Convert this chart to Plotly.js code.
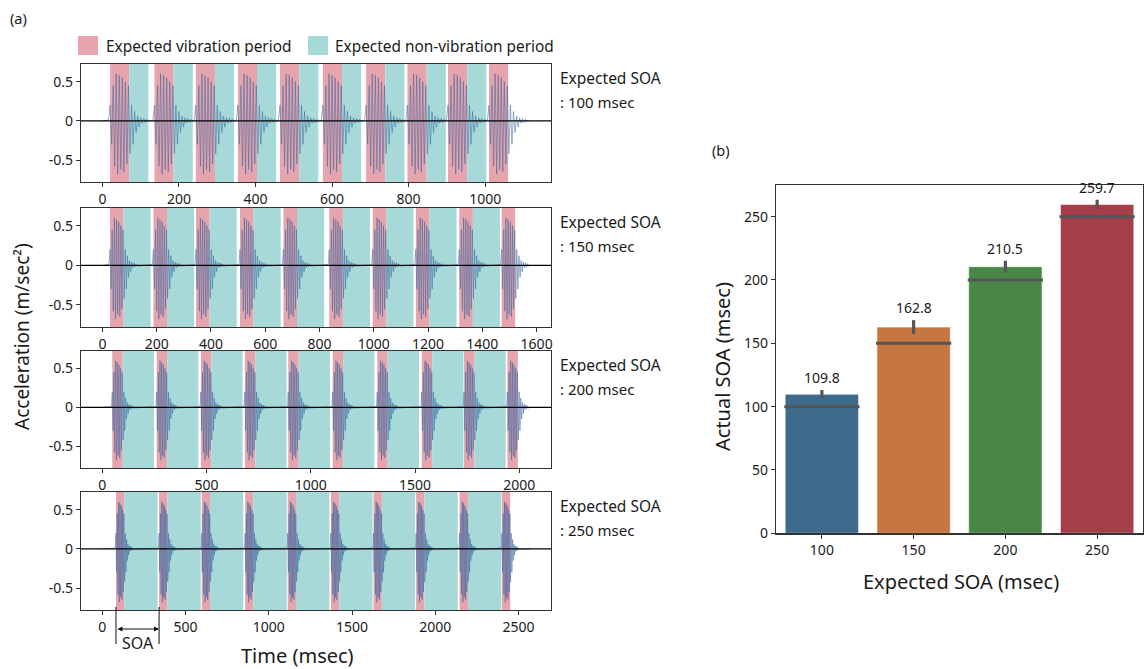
<!DOCTYPE html>
<html><head><meta charset="utf-8">
<script src="https://cdn.plot.ly/plotly-3.0.1.min.js"></script>
<style>html,body{margin:0;padding:0;background:#fff}#chart{width:1148px;height:669px}</style>
</head><body><div id="chart"></div>
<script>
// ---------------- DATA ----------------
const expectedSOA = [100, 150, 200, 250];
const onsets100 = [20, 136, 244, 354, 464, 576, 689, 797, 903, 1010];
const onsets150 = [28, 188, 345, 507, 667, 836, 996, 1155, 1315, 1471];
const onsets200 = [48, 261, 473, 684, 892, 1105, 1319, 1532, 1735, 1943];
const onsets250 = [82, 341, 597, 858, 1114, 1373, 1629, 1885, 2146, 2400];
const signalEnd = [1115, 1575, 2051, 2570];
const vibrationMs = 50;
// one vibration burst (ms relative to onset, m/sec^2)
const burstTimes = [-4, 0, 4, 8, 12, 16, 20, 24, 28, 32, 36, 40, 44, 48, 52, 56, 60, 64, 68, 72, 76, 80, 84, 88, 92, 96, 100];
const burstValues = [0.01, 0.2, -0.3, 0.45, -0.58, 0.6, -0.68, 0.58, -0.62, 0.55, -0.65, 0.5, -0.55, 0.45, -0.42, 0.2, -0.3, 0.12, -0.15, 0.06, -0.08, 0.04, -0.03, 0.03, -0.02, 0.02, -0.01];
const accelTickVals = [-0.5, 0, 0.5];
const accelTickText = ['-0.5', '0', '0.5'];
const barCategories = ['100', '150', '200', '250'];
const actualSOA = [109.8, 162.8, 210.5, 259.7];
const actualErr = [3.3, 5.5, 4.7, 3.7];
const soaTicks = [0, 50, 100, 150, 200, 250];

// ---------------- LAYOUT HELPERS ----------------
const W = 1148, H = 669;
const px = x => x / W, py = y => 1 - y / H;
const FONT = 'Noto Sans, sans-serif';
const panelTops = [64, 208, 351, 492];
const panelBottoms = [182, 327, 468, 610];
const panelXRange = [[-56, 1172], [-79, 1653], [-102, 2152], [-128, 2695]];
const panelDtick = [200, 200, 500, 500];
const onsetsAll = [onsets100, onsets150, onsets200, onsets250];
const pink = '#e6a4ad', cyan = '#a7d9d9';

const traces = [];
const shapes = [];
const annotations = [];
const layout = {
  width: W, height: H, margin: {l: 0, r: 0, t: 0, b: 0},
  paper_bgcolor: '#fff', plot_bgcolor: '#fff', showlegend: false,
  font: {family: FONT, color: '#1a1a1a', size: 14}
};
function label(x, y, text, size, extra) {
  annotations.push(Object.assign({xref: 'paper', yref: 'paper', x: px(x), y: py(y), xanchor: 'center', yanchor: 'middle',
    text: text, showarrow: false, font: {size: size, family: FONT, color: '#1a1a1a'}}, extra || {}));
}

for (let p = 0; p < 4; p++) {
  const n = p + 1;
  const xa = 'xaxis' + (n === 1 ? '' : n), ya = 'yaxis' + (n === 1 ? '' : n);
  const xr = 'x' + (n === 1 ? '' : n), yr = 'y' + (n === 1 ? '' : n);
  layout[xa] = {
    domain: [px(81), px(551)], range: panelXRange[p], anchor: yr,
    tick0: 0, dtick: panelDtick[p], ticks: 'outside', ticklen: 4, tickcolor: '#333',
    showline: true, mirror: true, linecolor: '#333', linewidth: 1.2,
    showgrid: false, zeroline: false, tickfont: {size: 14, family: FONT, color: '#1a1a1a'}
  };
  layout[ya] = {
    domain: [py(panelBottoms[p]), py(panelTops[p])], range: [-0.78, 0.725], anchor: xr,
    tickvals: accelTickVals, ticktext: accelTickText, ticks: 'outside', ticklen: 4, tickcolor: '#333',
    showline: true, mirror: true, linecolor: '#333', linewidth: 1.2,
    showgrid: false, zeroline: false, tickfont: {size: 14, family: FONT, color: '#1a1a1a'}
  };
  // signal
  const xs = [0], ys = [0];
  onsetsAll[p].forEach(on => {
    burstTimes.forEach((t, k) => { xs.push(on + t); ys.push(burstValues[k]); });
  });
  xs.push(signalEnd[p]); ys.push(0);
  traces.push({type: 'scatter', mode: 'lines', x: xs, y: ys, xaxis: xr, yaxis: yr,
    line: {color: 'rgba(60,105,160,0.6)', width: 0.9}, hoverinfo: 'skip'});
  // bands
  const ons = onsetsAll[p];
  ons.forEach((on, i) => {
    shapes.push({type: 'rect', xref: xr, yref: yr + ' domain', x0: on, x1: on + vibrationMs, y0: 0, y1: 1,
      fillcolor: pink, line: {width: 0}, layer: 'below'});
    if (i < ons.length - 1) {
      shapes.push({type: 'rect', xref: xr, yref: yr + ' domain', x0: on + vibrationMs, x1: on + expectedSOA[p], y0: 0, y1: 1,
        fillcolor: cyan, line: {width: 0}, layer: 'below'});
    }
  });
  // zero line
  shapes.push({type: 'line', xref: xr + ' domain', yref: yr, x0: 0, x1: 1, y0: 0, y1: 0,
    line: {color: '#000', width: 1.3}, layer: 'above'});
  // right labels
  label(558, panelTops[p] + 14, 'Expected SOA', 15.5, {xanchor: 'left'});
  label(558, panelTops[p] + 38, ': ' + expectedSOA[p] + ' msec', 15, {xanchor: 'left'});
}

// bar chart
layout.xaxis5 = {
  domain: [px(776), px(1143)], range: [-0.5, 3.5], anchor: 'y5',
  tickvals: [0, 1, 2, 3], ticktext: barCategories, ticks: 'outside', ticklen: 4, tickcolor: '#333',
  showline: true, mirror: true, linecolor: '#333', linewidth: 1.2, showgrid: false, zeroline: false,
  tickfont: {size: 14, family: FONT, color: '#1a1a1a'}
};
layout.yaxis5 = {
  domain: [py(533.3), py(185)], range: [0, 275], anchor: 'x5',
  tickvals: soaTicks, ticks: 'outside', ticklen: 4, tickcolor: '#333',
  showline: true, mirror: true, linecolor: '#333', linewidth: 1.2, showgrid: false, zeroline: false,
  tickfont: {size: 14, family: FONT, color: '#1a1a1a'}
};
traces.push({type: 'bar', x: [0, 1, 2, 3], y: actualSOA, width: 0.8, xaxis: 'x5', yaxis: 'y5',
  marker: {color: ['#3e6a8b', '#c67641', '#498746', '#a43e48'], line: {color: 'rgba(255,255,255,0.6)', width: 1}},
  error_y: {type: 'data', array: actualErr, thickness: 3.2, width: 0, color: '#555'}, hoverinfo: 'skip'});
expectedSOA.forEach((v, i) => {
  shapes.push({type: 'line', xref: 'x5', yref: 'y5', x0: i - 0.41, x1: i + 0.41, y0: v, y1: v,
    line: {color: '#555', width: 3}, layer: 'above'});
});
actualSOA.forEach((v, i) => {
  annotations.push({xref: 'x5', yref: 'y5', x: i, y: v + actualErr[i], xanchor: 'center', yanchor: 'bottom', yshift: 1,
    text: v.toFixed(1), showarrow: false, font: {size: 14, family: FONT, color: '#1a1a1a'}});
});

// legend
shapes.push({type: 'rect', xref: 'paper', yref: 'paper', x0: px(78), x1: px(98), y0: py(55), y1: py(36), fillcolor: pink, line: {width: 0}});
shapes.push({type: 'rect', xref: 'paper', yref: 'paper', x0: px(308), x1: px(328), y0: py(55), y1: py(36), fillcolor: cyan, line: {width: 0}});
label(104, 46, 'Expected vibration period', 15.4, {xanchor: 'left'});
label(333, 46, 'Expected non-vibration period', 15.4, {xanchor: 'left'});

// panel labels & titles
label(18, 18, '(a)', 14.5);
label(721, 150, '(b)', 14.5);
label(22, 337, 'Acceleration (m/sec²)', 19, {textangle: -90});
label(297, 655, 'Time (msec)', 20);
label(722, 367, 'Actual SOA (msec)', 20, {textangle: -90});
label(961, 581, 'Expected SOA (msec)', 20);

// SOA marker on bottom panel
[onsets250[0], onsets250[1]].forEach(xv => {
  shapes.push({type: 'line', xref: 'x4', yref: 'paper', x0: xv, x1: xv, y0: py(607), y1: py(644), line: {color: '#111', width: 1}});
});
annotations.push({xref: 'x4', yref: 'paper', axref: 'x4', ayref: 'pixel', x: onsets250[1], y: py(629), ax: onsets250[0], ay: 0,
  text: '', showarrow: true, arrowhead: 2, arrowside: 'end+start', arrowsize: 1, arrowwidth: 1, arrowcolor: '#111', standoff: 0, startstandoff: 0});
annotations.push({xref: 'x4', yref: 'paper', x: (onsets250[0] + onsets250[1]) / 2, y: py(643), xanchor: 'center', yanchor: 'middle',
  text: 'SOA', showarrow: false, font: {size: 16, family: FONT, color: '#1a1a1a'}});

layout.shapes = shapes;
layout.annotations = annotations;
Plotly.newPlot('chart', traces, layout, {displayModeBar: false, staticPlot: true});
</script></body></html>
